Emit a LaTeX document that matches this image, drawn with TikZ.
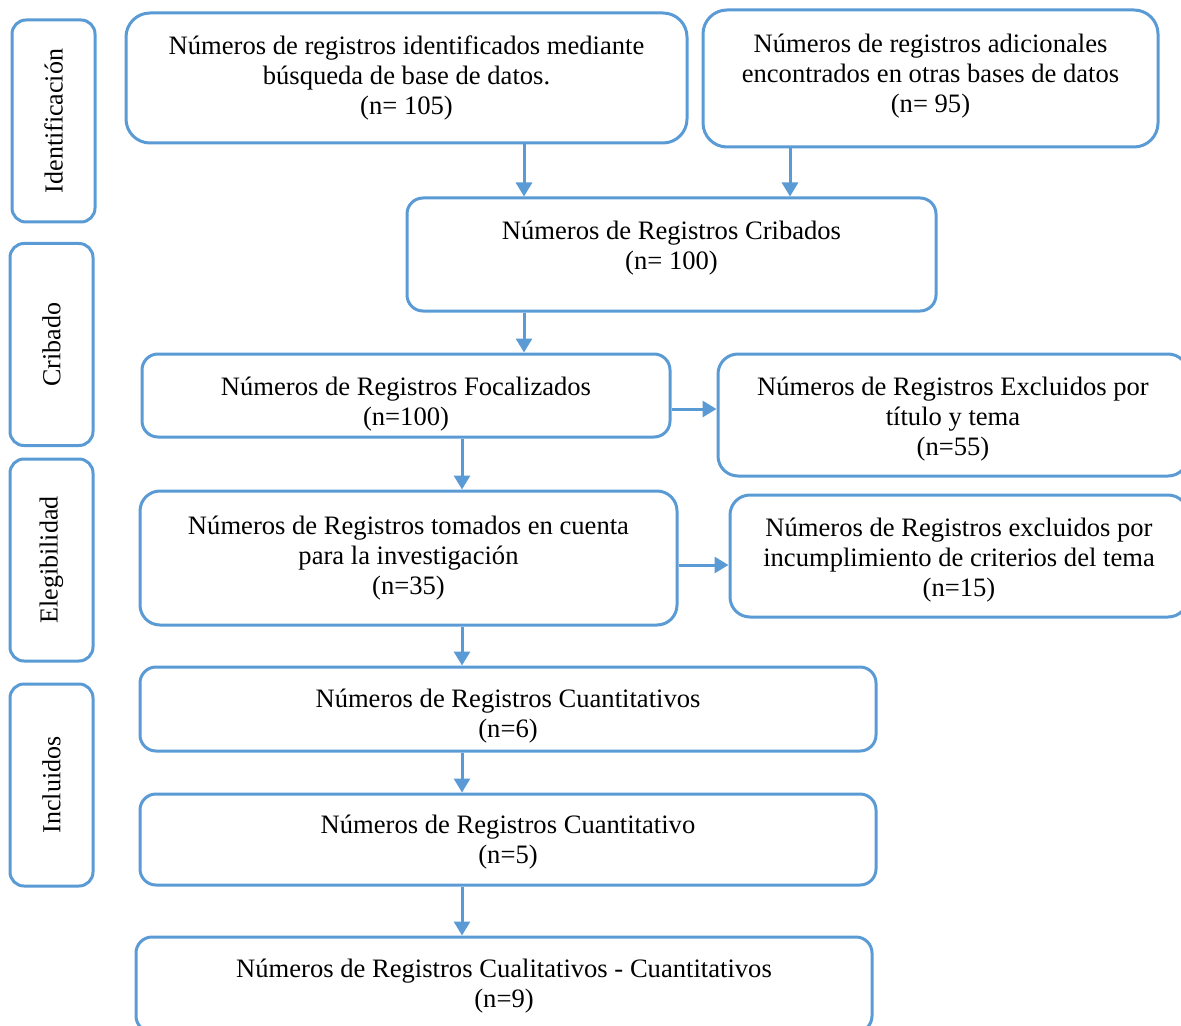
\documentclass[tikz,border=0pt]{standalone}
\usepackage{fontspec}
\setmainfont{Liberation Serif}
\usetikzlibrary{arrows.meta,positioning}
\definecolor{boxblue}{RGB}{91,155,213}
\newcommand{\movetext}[2]{\raisebox{#1}[\height][\depth]{\begin{tabular}{@{}c@{}}#2\end{tabular}}}
\tikzset{
    block/.style = {draw=boxblue, line width=1.5pt, rectangle,
        rounded corners=8pt, fill=white, align=center, inner sep=2pt},
    stage/.style = {block, rotate=90, rounded corners=7pt, font=\fontsize{13}{15}\selectfont,
        minimum width=101pt, minimum height=41.5pt},
    arrow/.style = {draw=boxblue, line width=1.5pt, -{Triangle[length=7pt,width=8pt]}}
}

\begin{document}
\begin{tikzpicture}[x=0.5pt, y=-0.5pt, font=\fontsize{13.3}{15}\selectfont]
        \useasboundingbox (0,0) rectangle (1181,1026);
        % etapas
        \node [stage] (ident) at (53.5,121) {Identificación};
        \node [stage] (crib) at (51.5,344.5) {Cribado};
        \node [stage] (eleg) at (51.5,560) {Elegibilidad};
        \node [stage] (incl) at (51.5,785) {Incluidos};
        % registros
        \node [block, minimum width=280.5pt, minimum height=65pt, rounded corners=12pt] (busq) at (406.5,78)
            {Números de registros identificados mediante\\búsqueda de base de datos.\\(n= 105)};
        \node [block, minimum width=227.5pt, minimum height=68.5pt, rounded corners=12pt] (adic) at (930.5,78.5)
            {\movetext{1pt}{Números de registros adicionales\\encontrados en otras bases de datos\\(n= 95)}};
        \node [block, minimum width=264.5pt, minimum height=56.5pt] (cribados) at (671.5,254.5)
            {\movetext{3pt}{Números de Registros Cribados\\(n= 100)}};
        \node [block, minimum width=264pt, minimum height=41.5pt] (focal) at (406,395.5)
            {\movetext{-4.5pt}{Números de Registros Focalizados\\(n=100)}};
        \node [block, minimum width=235pt, minimum height=61pt, rounded corners=10pt] (excl1) at (953,415)
            {\movetext{-2pt}{Números de Registros Excluidos por\\título y tema\\(n=55)}};
        \node [block, minimum width=268.5pt, minimum height=67pt, rounded corners=10pt] (tomados) at (408.5,558)
            {Números de Registros tomados en cuenta\\para la investigación\\(n=35)};
        \node [block, minimum width=229pt, minimum height=61pt, rounded corners=10pt] (excl2) at (959,556)
            {\movetext{-2pt}{Números de Registros excluidos por\\incumplimiento de criterios del tema\\(n=15)}};
        \node [block, minimum width=368pt, minimum height=42pt] (cuanti) at (508,709)
            {\movetext{-3.5pt}{Números de Registros Cuantitativos\\(n=6)}};
        \node [block, minimum width=368pt, minimum height=45.5pt] (cuanti2) at (508,839.5)
            {\movetext{-1.5pt}{Números de Registros Cuantitativo\\(n=5)}};
        \node [block, minimum width=368pt, minimum height=47.5pt] (mixto) at (504,984.5)
            {\movetext{-1pt}{Números de Registros Cualitativos - Cuantitativos\\(n=9)}};
        % columnas y filas de flechas
        \coordinate (colA) at (524,0);
        \coordinate (colB) at (790,0);
        \coordinate (colC) at (462,0);
        \coordinate (rowD) at (0,409);
        \coordinate (rowF) at (0,565);
        \draw [arrow] (busq.south -| colA) -- (cribados.north -| colA);
        \draw [arrow] (adic.south -| colB) -- (cribados.north -| colB);
        \draw [arrow] (cribados.south -| colA) -- (focal.north -| colA);
        \draw [arrow] (focal.east |- rowD) -- (excl1.west |- rowD);
        \draw [arrow] (focal.south -| colC) -- (tomados.north -| colC);
        \draw [arrow] (tomados.east |- rowF) -- (excl2.west |- rowF);
        \draw [arrow] (tomados.south -| colC) -- (cuanti.north -| colC);
        \draw [arrow] (cuanti.south -| colC) -- (cuanti2.north -| colC);
        \draw [arrow] (cuanti2.south -| colC) -- (mixto.north -| colC);
\end{tikzpicture}
\end{document}
